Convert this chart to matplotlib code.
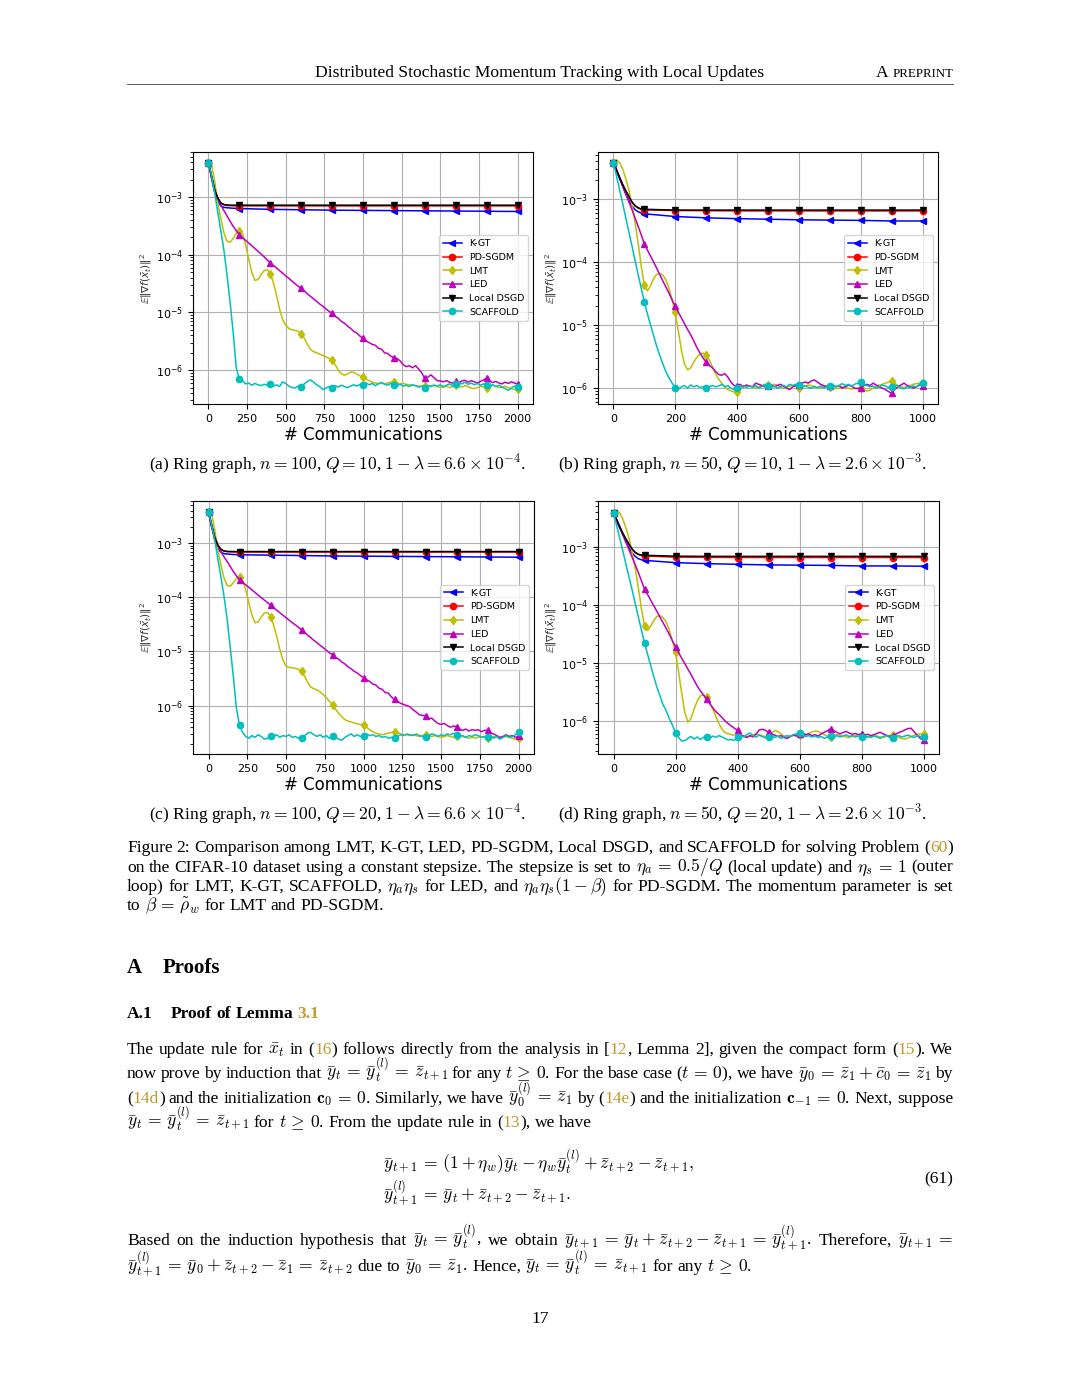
import numpy as np
import matplotlib
matplotlib.use("Agg")
import matplotlib.pyplot as plt
from matplotlib.lines import Line2D

W, H = 1080, 1398
fig = plt.figure(figsize=(W / 100, H / 100), dpi=100)
fig.patch.set_facecolor("white")

# ---------------------------------------------------------------- data
labels = ["K-GT", "PD-SGDM", "LMT", "LED", "Local DSGD", "SCAFFOLD"]
colors = ["b", "r", "y", "m", "k", "c"]
markers = ["<", "o", "d", "^", "v", "o"]

x2k = np.arange(0, 2001, 20)          # sampling positions for n=100 panels
x1k = np.arange(0, 1001, 10)          # sampling positions for n=50 panels
xf2k = [0, 20, 40, 60, 80, 100, 120, 150, 200, 400, 600, 800, 1000, 1200, 1400, 1600, 1800, 2000]
xf1k = [0, 10, 20, 30, 40, 50, 60, 70, 80, 90, 100, 200, 300, 400, 500, 600, 700, 800, 900, 1000]

xticks_2k = [0, 250, 500, 750, 1000, 1250, 1500, 1750, 2000]
xticks_1k = [0, 200, 400, 600, 800, 1000]

# ---- panel (a)
a_kgt = [3.9e-3, 2.1e-3, 1.2e-3, 8.4e-4, 7.0e-4, 6.6e-4, 6.5e-4, 6.4e-4, 6.3e-4, 6.1e-4,
         6.0e-4, 5.9e-4, 5.85e-4, 5.8e-4, 5.75e-4, 5.7e-4, 5.65e-4, 5.6e-4]
a_pd = [3.9e-3, 2.3e-3, 1.35e-3, 9.5e-4, 7.8e-4, 7.3e-4, 7.1e-4, 7.05e-4, 7.0e-4, 7.0e-4,
        7.0e-4, 7.0e-4, 7.0e-4, 7.0e-4, 7.0e-4, 7.0e-4, 7.0e-4, 7.0e-4]
a_lds = [3.9e-3, 2.3e-3, 1.35e-3, 9.6e-4, 7.9e-4, 7.4e-4, 7.25e-4, 7.2e-4, 7.2e-4, 7.2e-4,
         7.2e-4, 7.2e-4, 7.2e-4, 7.2e-4, 7.2e-4, 7.2e-4, 7.2e-4, 7.2e-4]
a_lmt = [3.9e-3, 3.6e-3, 1.9e-3, 8.0e-4, 4.2e-4, 2.4e-4, 1.7e-4, 1.65e-4, 1.9e-4, 2.35e-4,
         2.6e-4, 2.3e-4, 1.5e-4, 8.5e-5, 5.0e-5, 3.6e-5, 3.7e-5, 4.5e-5, 5.3e-5, 5.5e-5,
         4.7e-5, 3.3e-5, 2.0e-5, 1.15e-5, 7.5e-6, 6.0e-6, 5.3e-6, 5.0e-6, 4.9e-6, 4.7e-6,
         4.3e-6, 3.6e-6, 2.8e-6, 2.3e-6, 2.1e-6, 2.0e-6, 1.9e-6, 1.8e-6, 1.7e-6, 1.6e-6,
         1.5e-6, 1.25e-6, 1.0e-6, 8.7e-7, 8.2e-7, 8.6e-7, 9.3e-7, 9.2e-7, 8.6e-7, 8.0e-7,
         7.6e-7, 7.0e-7, 6.6e-7, 6.2e-7, 6.0e-7, 5.9e-7, 6.0e-7, 5.8e-7, 6.0e-7, 6.2e-7,
         6.3e-7, 6.0e-7, 5.8e-7, 5.9e-7, 5.7e-7, 5.6e-7, 5.5e-7, 5.4e-7, 5.3e-7, 5.3e-7,
         5.4e-7, 5.3e-7, 5.4e-7, 5.5e-7, 5.2e-7, 5.0e-7, 5.1e-7, 5.3e-7, 5.0e-7, 5.2e-7,
         5.5e-7, 5.3e-7, 5.1e-7, 5.4e-7, 5.2e-7, 4.9e-7, 4.8e-7, 5.0e-7, 5.3e-7, 5.1e-7,
         5.0e-7, 5.2e-7, 5.5e-7, 5.3e-7, 5.0e-7, 5.1e-7, 5.3e-7, 5.0e-7, 4.8e-7, 4.6e-7,
         4.8e-7]
a_led = [3.9e-3, 2.2e-3, 1.3e-3, 9.5e-4, 7.3e-4, 5.8e-4, 4.7e-4, 3.8e-4, 3.1e-4, 2.6e-4,
         2.2e-4, 1.98e-4, 1.78e-4, 1.6e-4, 1.43e-4, 1.28e-4, 1.15e-4, 1.03e-4, 9.2e-5, 8.1e-5,
         7.2e-5, 6.5e-5, 5.9e-5, 5.3e-5, 4.8e-5, 4.3e-5, 3.9e-5, 3.5e-5, 3.15e-5, 2.85e-5,
         2.6e-5, 2.35e-5, 2.1e-5, 1.9e-5, 1.72e-5, 1.55e-5, 1.4e-5, 1.28e-5, 1.15e-5, 1.05e-5,
         9.6e-6, 8.6e-6, 7.9e-6, 7.0e-6, 6.5e-6, 5.8e-6, 5.3e-6, 4.7e-6, 4.4e-6, 3.9e-6,
         3.6e-6, 3.2e-6, 3.0e-6, 2.8e-6, 2.7e-6, 2.4e-6, 2.3e-6, 2.0e-6, 1.95e-6, 1.75e-6,
         1.65e-6, 1.6e-6, 1.45e-6, 1.25e-6, 1.15e-6, 1.2e-6, 1.1e-6, 1.2e-6, 1.05e-6, 9.0e-7,
         7.2e-7, 7.6e-7, 8.3e-7, 7.4e-7, 6.6e-7, 6.5e-7, 6.3e-7, 6.6e-7, 6.2e-7, 6.0e-7,
         6.4e-7, 6.1e-7, 6.5e-7, 6.7e-7, 6.2e-7, 6.6e-7, 6.3e-7, 6.0e-7, 6.4e-7, 6.8e-7,
         7.3e-7, 6.5e-7, 6.1e-7, 6.4e-7, 6.0e-7, 5.8e-7, 6.2e-7, 5.9e-7, 6.3e-7, 6.0e-7,
         5.8e-7]
a_scaf = [3.9e-3, 2.3e-3, 1.2e-3, 5.5e-4, 2.6e-4, 1.2e-4, 4.5e-5, 1.5e-5, 4.5e-6, 1.1e-6,
          7.0e-7, 6.6e-7, 5.8e-7, 6.0e-7, 5.5e-7, 5.9e-7, 5.6e-7, 5.4e-7, 5.7e-7, 5.5e-7,
          5.8e-7, 5.3e-7, 5.6e-7, 5.2e-7, 6.3e-7, 5.9e-7, 5.3e-7, 5.0e-7, 4.9e-7, 5.3e-7,
          5.1e-7, 5.8e-7, 6.4e-7, 6.8e-7, 6.2e-7, 5.6e-7, 5.2e-7, 4.6e-7, 4.9e-7, 5.2e-7,
          5.0e-7, 5.4e-7, 5.1e-7, 5.5e-7, 5.2e-7, 5.0e-7, 5.3e-7, 5.6e-7, 5.3e-7, 5.7e-7,
          5.5e-7, 6.0e-7, 5.6e-7, 5.9e-7, 5.4e-7, 5.8e-7, 6.1e-7, 5.7e-7, 5.5e-7, 5.9e-7,
          5.6e-7, 5.4e-7, 5.7e-7, 5.3e-7, 5.5e-7, 5.2e-7, 5.6e-7, 5.4e-7, 5.1e-7, 5.3e-7,
          5.0e-7, 5.4e-7, 5.2e-7, 5.5e-7, 5.3e-7, 5.6e-7, 5.2e-7, 5.5e-7, 5.8e-7, 5.4e-7,
          5.7e-7, 6.1e-7, 5.8e-7, 6.2e-7, 5.7e-7, 6.0e-7, 5.6e-7, 5.9e-7, 5.5e-7, 5.8e-7,
          5.6e-7, 5.3e-7, 5.6e-7, 5.2e-7, 5.5e-7, 5.1e-7, 4.8e-7, 4.5e-7, 4.9e-7, 5.3e-7,
          5.2e-7]

# ---- panel (b)
b_kgt = [3.8e-3, 2.8e-3, 2.1e-3, 1.6e-3, 1.2e-3, 9.5e-4, 7.8e-4, 6.8e-4, 6.3e-4, 6.0e-4,
         5.85e-4, 5.3e-4, 5.05e-4, 4.9e-4, 4.8e-4, 4.7e-4, 4.65e-4, 4.6e-4, 4.5e-4, 4.5e-4]
b_pd = [3.8e-3, 2.9e-3, 2.2e-3, 1.7e-3, 1.35e-3, 1.1e-3, 9.0e-4, 7.8e-4, 7.2e-4, 6.9e-4,
        6.75e-4, 6.6e-4, 6.55e-4, 6.5e-4, 6.5e-4, 6.5e-4, 6.5e-4, 6.5e-4, 6.5e-4, 6.5e-4]
b_lds = [3.8e-3, 2.9e-3, 2.2e-3, 1.7e-3, 1.35e-3, 1.1e-3, 9.0e-4, 7.9e-4, 7.3e-4, 7.0e-4,
         6.9e-4, 6.7e-4, 6.7e-4, 6.7e-4, 6.7e-4, 6.7e-4, 6.7e-4, 6.7e-4, 6.7e-4, 6.7e-4]
b_lmt = [3.8e-3, 4.2e-3, 3.8e-3, 3.0e-3, 2.1e-3, 1.4e-3, 8.0e-4, 4.2e-4, 2.0e-4, 8.5e-5,
         4.3e-5, 3.5e-5, 4.2e-5, 5.5e-5, 6.4e-5, 6.6e-5, 6.2e-5, 5.2e-5, 3.8e-5, 2.5e-5,
         1.6e-5, 8.0e-6, 4.0e-6, 2.4e-6, 1.95e-6, 2.1e-6, 2.6e-6, 3.1e-6, 3.5e-6, 3.6e-6,
         3.4e-6, 2.8e-6, 2.2e-6, 1.7e-6, 1.4e-6, 1.2e-6, 1.05e-6, 9.5e-7, 9.0e-7, 8.7e-7,
         8.7e-7, 9.5e-7, 1.05e-6, 1.1e-6, 1.08e-6, 1.05e-6, 1.02e-6, 1.05e-6, 1.1e-6, 1.15e-6,
         1.12e-6, 1.1e-6, 1.15e-6, 1.12e-6, 1.05e-6, 1.0e-6, 1.02e-6, 1.08e-6, 1.1e-6, 1.05e-6,
         1.0e-6, 1.02e-6, 1.08e-6, 1.12e-6, 1.1e-6, 1.05e-6, 1.0e-6, 1.02e-6, 1.05e-6, 1.1e-6,
         1.05e-6, 1.0e-6, 9.8e-7, 1.0e-6, 1.05e-6, 1.02e-6, 1.0e-6, 9.7e-7, 9.8e-7, 1.0e-6,
         1.0e-6, 9.5e-7, 9.0e-7, 9.3e-7, 1.0e-6, 1.08e-6, 1.12e-6, 1.15e-6, 1.2e-6, 1.25e-6,
         1.3e-6, 1.2e-6, 1.1e-6, 1.05e-6, 1.02e-6, 1.05e-6, 1.1e-6, 1.15e-6, 1.18e-6, 1.2e-6,
         1.2e-6]
b_led = [3.8e-3, 2.9e-3, 2.2e-3, 1.6e-3, 1.2e-3, 9.0e-4, 6.8e-4, 5.0e-4, 3.7e-4, 2.7e-4,
         1.95e-4, 1.55e-4, 1.25e-4, 1.0e-4, 8.0e-5, 6.3e-5, 5.0e-5, 4.0e-5, 3.2e-5, 2.5e-5,
         2.0e-5, 1.6e-5, 1.3e-5, 1.05e-5, 8.5e-6, 7.0e-6, 5.6e-6, 4.4e-6, 3.6e-6, 3.0e-6,
         2.6e-6, 2.3e-6, 2.1e-6, 1.85e-6, 1.65e-6, 1.6e-6, 1.7e-6, 1.5e-6, 1.25e-6, 1.1e-6,
         1.1e-6, 1.15e-6, 1.05e-6, 1.12e-6, 1.08e-6, 1.05e-6, 1.2e-6, 1.15e-6, 1.1e-6, 1.05e-6,
         1.08e-6, 1.12e-6, 1.05e-6, 1.1e-6, 1.15e-6, 1.08e-6, 1.0e-6, 9.5e-7, 1.05e-6, 1.1e-6,
         1.12e-6, 1.2e-6, 1.25e-6, 1.2e-6, 1.3e-6, 1.35e-6, 1.25e-6, 1.15e-6, 1.1e-6, 1.05e-6,
         1.08e-6, 1.12e-6, 1.05e-6, 1.1e-6, 1.0e-6, 1.05e-6, 1.12e-6, 1.08e-6, 1.0e-6, 9.8e-7,
         1.02e-6, 1.1e-6, 1.15e-6, 1.1e-6, 1.2e-6, 1.12e-6, 1.05e-6, 1.0e-6, 9.5e-7, 8.8e-7,
         8.3e-7, 9.5e-7, 1.05e-6, 1.12e-6, 1.2e-6, 1.1e-6, 1.05e-6, 1.0e-6, 1.05e-6, 1.12e-6,
         1.1e-6]
b_scaf = [3.8e-3, 2.3e-3, 1.4e-3, 8.5e-4, 5.0e-4, 3.0e-4, 1.8e-4, 1.05e-4, 6.3e-5, 3.8e-5,
          2.3e-5, 1.5e-5, 1.0e-5, 6.8e-6, 4.6e-6, 3.3e-6, 2.4e-6, 1.8e-6, 1.45e-6, 1.2e-6,
          1.0e-6, 9.6e-7, 1.05e-6, 1.1e-6, 1.0e-6, 1.12e-6, 1.05e-6, 1.1e-6, 1.02e-6, 1.06e-6,
          1.0e-6, 1.05e-6, 1.1e-6, 1.05e-6, 1.08e-6, 1.15e-6, 1.05e-6, 1.1e-6, 1.0e-6, 9.5e-7,
          1.0e-6, 1.05e-6, 1.1e-6, 1.02e-6, 1.08e-6, 1.04e-6, 1.1e-6, 1.0e-6, 1.06e-6, 1.12e-6,
          1.08e-6, 1.03e-6, 1.08e-6, 1.0e-6, 1.05e-6, 1.1e-6, 1.05e-6, 1.15e-6, 1.1e-6, 1.15e-6,
          1.12e-6, 1.05e-6, 1.1e-6, 1.03e-6, 1.0e-6, 1.07e-6, 1.02e-6, 1.08e-6, 1.0e-6, 1.05e-6,
          1.08e-6, 1.12e-6, 1.05e-6, 1.1e-6, 1.18e-6, 1.1e-6, 1.15e-6, 1.08e-6, 1.15e-6, 1.2e-6,
          1.25e-6, 1.15e-6, 1.1e-6, 1.05e-6, 1.08e-6, 1.0e-6, 1.05e-6, 1.12e-6, 1.08e-6, 1.02e-6,
          1.05e-6, 1.12e-6, 1.08e-6, 1.0e-6, 9.8e-7, 1.05e-6, 1.02e-6, 1.08e-6, 1.05e-6, 1.15e-6,
          1.2e-6]

# ---- panel (c)
c_kgt = [3.7e-3, 2.0e-3, 1.15e-3, 8.0e-4, 6.8e-4, 6.4e-4, 6.3e-4, 6.2e-4, 6.1e-4, 6.0e-4,
         5.9e-4, 5.8e-4, 5.75e-4, 5.7e-4, 5.65e-4, 5.6e-4, 5.55e-4, 5.5e-4]
c_pd = [3.7e-3, 2.2e-3, 1.3e-3, 9.2e-4, 7.6e-4, 7.1e-4, 6.95e-4, 6.9e-4, 6.85e-4, 6.85e-4,
        6.85e-4, 6.85e-4, 6.85e-4, 6.85e-4, 6.85e-4, 6.85e-4, 6.85e-4, 6.85e-4]
c_lds = [3.7e-3, 2.2e-3, 1.3e-3, 9.3e-4, 7.7e-4, 7.2e-4, 7.05e-4, 7.0e-4, 7.0e-4, 7.0e-4,
         7.0e-4, 7.0e-4, 7.0e-4, 7.0e-4, 7.0e-4, 7.0e-4, 7.0e-4, 7.0e-4]
c_lmt = [3.7e-3, 3.5e-3, 1.8e-3, 7.6e-4, 4.0e-4, 2.3e-4, 1.65e-4, 1.6e-4, 1.85e-4, 2.25e-4,
         2.4e-4, 2.1e-4, 1.4e-4, 8.0e-5, 4.7e-5, 3.4e-5, 3.5e-5, 4.3e-5, 5.1e-5, 5.3e-5,
         4.4e-5, 3.1e-5, 1.9e-5, 1.1e-5, 7.0e-6, 5.4e-6, 5.1e-6, 5.0e-6, 4.9e-6, 4.7e-6,
         4.3e-6, 3.5e-6, 2.7e-6, 2.2e-6, 2.05e-6, 1.95e-6, 1.8e-6, 1.6e-6, 1.4e-6, 1.2e-6,
         1.03e-6, 8.6e-7, 7.2e-7, 6.2e-7, 5.5e-7, 5.2e-7, 5.0e-7, 4.8e-7, 4.6e-7, 4.5e-7,
         4.4e-7, 4.0e-7, 3.6e-7, 3.3e-7, 3.1e-7, 3.0e-7, 2.9e-7, 3.0e-7, 3.1e-7, 3.2e-7,
         3.3e-7, 3.2e-7, 3.0e-7, 2.9e-7, 2.9e-7, 2.8e-7, 2.9e-7, 2.8e-7, 2.7e-7, 2.8e-7,
         2.9e-7, 2.8e-7, 2.7e-7, 2.8e-7, 2.7e-7, 2.6e-7, 2.7e-7, 2.8e-7, 2.7e-7, 2.6e-7,
         2.7e-7, 2.8e-7, 2.7e-7, 2.6e-7, 2.5e-7, 2.6e-7, 2.5e-7, 2.6e-7, 2.7e-7, 2.6e-7,
         2.5e-7, 2.6e-7, 2.7e-7, 2.6e-7, 2.5e-7, 2.6e-7, 2.7e-7, 2.6e-7, 2.5e-7, 2.4e-7,
         2.5e-7]
c_led = [3.7e-3, 2.1e-3, 1.25e-3, 9.0e-4, 7.0e-4, 5.6e-4, 4.6e-4, 3.7e-4, 3.0e-4, 2.5e-4,
         2.1e-4, 1.9e-4, 1.7e-4, 1.53e-4, 1.37e-4, 1.23e-4, 1.1e-4, 9.9e-5, 8.9e-5, 8.0e-5,
         7.2e-5, 6.4e-5, 5.8e-5, 5.2e-5, 4.7e-5, 4.2e-5, 3.8e-5, 3.4e-5, 3.1e-5, 2.8e-5,
         2.5e-5, 2.25e-5, 2.0e-5, 1.8e-5, 1.6e-5, 1.45e-5, 1.3e-5, 1.18e-5, 1.05e-5, 9.5e-6,
         8.7e-6, 7.8e-6, 7.2e-6, 6.4e-6, 5.9e-6, 5.2e-6, 4.8e-6, 4.3e-6, 4.0e-6, 3.6e-6,
         3.3e-6, 3.0e-6, 2.8e-6, 2.5e-6, 2.4e-6, 2.1e-6, 2.0e-6, 1.75e-6, 1.7e-6, 1.45e-6,
         1.3e-6, 1.2e-6, 1.1e-6, 1.05e-6, 1.0e-6, 9.5e-7, 8.4e-7, 7.6e-7, 6.8e-7, 6.6e-7,
         6.5e-7, 5.7e-7, 5.9e-7, 5.2e-7, 4.7e-7, 4.5e-7, 4.7e-7, 4.3e-7, 4.0e-7, 4.2e-7,
         4.1e-7, 3.7e-7, 3.5e-7, 3.7e-7, 3.4e-7, 3.6e-7, 3.5e-7, 3.6e-7, 3.3e-7, 3.5e-7,
         3.5e-7, 3.1e-7, 3.0e-7, 2.8e-7, 2.6e-7, 2.7e-7, 2.9e-7, 2.7e-7, 2.8e-7, 2.6e-7,
         2.7e-7]
c_scaf = [3.7e-3, 2.2e-3, 1.15e-3, 5.2e-4, 2.4e-4, 1.05e-4, 4.0e-5, 1.2e-5, 3.5e-6, 9.0e-7,
          4.3e-7, 3.2e-7, 2.7e-7, 2.5e-7, 2.8e-7, 2.6e-7, 2.9e-7, 2.7e-7, 2.4e-7, 2.5e-7,
          2.8e-7, 2.7e-7, 2.9e-7, 2.6e-7, 2.8e-7, 2.7e-7, 2.9e-7, 2.6e-7, 2.7e-7, 2.5e-7,
          2.5e-7, 2.8e-7, 3.1e-7, 3.2e-7, 2.9e-7, 2.7e-7, 2.9e-7, 2.6e-7, 2.8e-7, 2.5e-7,
          2.7e-7, 2.6e-7, 2.4e-7, 2.3e-7, 2.6e-7, 2.8e-7, 3.0e-7, 2.7e-7, 2.9e-7, 2.7e-7,
          2.8e-7, 3.0e-7, 2.8e-7, 2.9e-7, 2.7e-7, 2.8e-7, 2.6e-7, 2.7e-7, 2.5e-7, 2.6e-7,
          2.5e-7, 2.7e-7, 2.9e-7, 2.8e-7, 3.0e-7, 2.9e-7, 2.8e-7, 3.0e-7, 2.8e-7, 2.7e-7,
          2.6e-7, 2.8e-7, 3.0e-7, 2.9e-7, 2.7e-7, 2.9e-7, 2.8e-7, 3.0e-7, 2.9e-7, 3.1e-7,
          2.9e-7, 2.7e-7, 2.8e-7, 2.6e-7, 2.8e-7, 2.7e-7, 2.9e-7, 2.8e-7, 2.6e-7, 2.7e-7,
          2.6e-7, 2.8e-7, 2.5e-7, 2.7e-7, 2.4e-7, 2.6e-7, 2.8e-7, 2.6e-7, 2.7e-7, 2.9e-7,
          3.3e-7]

# ---- panel (d)
d_kgt = [3.85e-3, 2.8e-3, 2.1e-3, 1.6e-3, 1.2e-3, 9.5e-4, 7.8e-4, 6.8e-4, 6.2e-4, 5.95e-4,
         5.8e-4, 5.3e-4, 5.1e-4, 4.96e-4, 4.85e-4, 4.8e-4, 4.75e-4, 4.65e-4, 4.65e-4, 4.6e-4]
d_pd = [3.85e-3, 2.9e-3, 2.2e-3, 1.7e-3, 1.35e-3, 1.1e-3, 9.0e-4, 7.9e-4, 7.3e-4, 7.0e-4,
        6.9e-4, 6.6e-4, 6.55e-4, 6.5e-4, 6.5e-4, 6.5e-4, 6.5e-4, 6.5e-4, 6.5e-4, 6.5e-4]
d_lds = [3.85e-3, 2.9e-3, 2.2e-3, 1.7e-3, 1.35e-3, 1.1e-3, 9.1e-4, 8.0e-4, 7.4e-4, 7.2e-4,
         7.1e-4, 6.85e-4, 6.8e-4, 6.8e-4, 6.8e-4, 6.8e-4, 6.8e-4, 6.8e-4, 6.8e-4, 6.8e-4]
d_lmt = [3.85e-3, 4.2e-3, 3.8e-3, 3.0e-3, 2.1e-3, 1.4e-3, 8.0e-4, 4.2e-4, 2.0e-4, 8.5e-5,
         4.3e-5, 3.6e-5, 4.3e-5, 5.4e-5, 6.3e-5, 6.5e-5, 6.0e-5, 5.0e-5, 3.7e-5, 2.4e-5,
         1.55e-5, 7.0e-6, 3.0e-6, 1.4e-6, 9.5e-7, 1.1e-6, 1.6e-6, 2.2e-6, 2.7e-6, 2.8e-6,
         2.6e-6, 2.1e-6, 1.6e-6, 1.2e-6, 9.0e-7, 7.2e-7, 6.3e-7, 6.0e-7, 5.8e-7, 5.7e-7,
         5.8e-7, 5.6e-7, 5.4e-7, 5.3e-7, 5.5e-7, 5.8e-7, 6.0e-7, 5.8e-7, 5.5e-7, 5.4e-7,
         5.7e-7, 6.3e-7, 6.8e-7, 6.6e-7, 6.0e-7, 5.5e-7, 5.3e-7, 5.4e-7, 5.7e-7, 5.9e-7,
         5.8e-7, 5.6e-7, 5.7e-7, 6.1e-7, 6.5e-7, 6.7e-7, 6.6e-7, 6.2e-7, 5.8e-7, 5.5e-7,
         5.4e-7, 5.6e-7, 5.8e-7, 5.7e-7, 5.5e-7, 5.3e-7, 5.2e-7, 5.4e-7, 5.6e-7, 5.8e-7,
         5.7e-7, 5.5e-7, 5.3e-7, 5.4e-7, 5.6e-7, 5.5e-7, 5.3e-7, 5.2e-7, 5.4e-7, 5.6e-7,
         5.7e-7, 5.5e-7, 5.2e-7, 5.0e-7, 4.9e-7, 5.1e-7, 5.4e-7, 5.7e-7, 5.9e-7, 6.0e-7,
         6.0e-7]
d_led = [3.85e-3, 2.9e-3, 2.2e-3, 1.6e-3, 1.2e-3, 8.8e-4, 6.6e-4, 4.9e-4, 3.6e-4, 2.6e-4,
         1.85e-4, 1.5e-4, 1.2e-4, 9.6e-5, 7.7e-5, 6.1e-5, 4.9e-5, 3.9e-5, 3.1e-5, 2.4e-5,
         1.9e-5, 1.5e-5, 1.2e-5, 9.7e-6, 7.8e-6, 6.3e-6, 5.0e-6, 4.0e-6, 3.3e-6, 2.8e-6,
         2.4e-6, 2.0e-6, 1.7e-6, 1.45e-6, 1.3e-6, 1.15e-6, 1.0e-6, 9.0e-7, 8.2e-7, 7.5e-7,
         6.9e-7, 5.8e-7, 5.5e-7, 5.2e-7, 5.6e-7, 5.3e-7, 5.9e-7, 7.0e-7, 7.2e-7, 6.9e-7,
         6.4e-7, 6.0e-7, 5.7e-7, 5.4e-7, 5.6e-7, 5.2e-7, 5.0e-7, 5.4e-7, 5.7e-7, 5.5e-7,
         5.9e-7, 6.2e-7, 5.8e-7, 6.0e-7, 5.6e-7, 5.8e-7, 5.5e-7, 6.0e-7, 6.4e-7, 6.8e-7,
         7.3e-7, 6.8e-7, 6.4e-7, 6.0e-7, 6.3e-7, 6.6e-7, 6.2e-7, 5.9e-7, 6.1e-7, 5.8e-7,
         6.0e-7, 5.7e-7, 5.9e-7, 5.6e-7, 5.8e-7, 6.1e-7, 6.4e-7, 6.0e-7, 5.7e-7, 5.4e-7,
         5.6e-7, 5.9e-7, 6.3e-7, 6.6e-7, 7.0e-7, 7.4e-7, 7.5e-7, 6.5e-7, 5.6e-7, 5.0e-7,
         4.7e-7]
d_scaf = [3.85e-3, 2.3e-3, 1.4e-3, 8.5e-4, 5.0e-4, 3.0e-4, 1.8e-4, 1.05e-4, 6.2e-5, 3.7e-5,
          2.2e-5, 1.4e-5, 9.0e-6, 5.8e-6, 3.8e-6, 2.7e-6, 1.9e-6, 1.5e-6, 1.1e-6, 8.5e-7,
          6.3e-7, 5.2e-7, 4.5e-7, 4.6e-7, 5.0e-7, 5.4e-7, 4.9e-7, 5.3e-7, 4.8e-7, 5.2e-7,
          5.4e-7, 5.0e-7, 5.5e-7, 5.2e-7, 5.6e-7, 5.3e-7, 5.0e-7, 4.7e-7, 4.8e-7, 4.6e-7,
          5.4e-7, 5.6e-7, 5.3e-7, 5.8e-7, 6.2e-7, 5.6e-7, 5.3e-7, 5.7e-7, 5.4e-7, 5.1e-7,
          5.4e-7, 5.6e-7, 5.2e-7, 5.5e-7, 5.0e-7, 5.3e-7, 5.6e-7, 5.4e-7, 5.8e-7, 6.0e-7,
          6.2e-7, 5.7e-7, 5.4e-7, 5.6e-7, 5.3e-7, 5.5e-7, 5.2e-7, 5.4e-7, 5.0e-7, 5.3e-7,
          5.5e-7, 5.2e-7, 5.6e-7, 5.3e-7, 5.5e-7, 5.8e-7, 5.4e-7, 5.6e-7, 5.3e-7, 5.5e-7,
          5.4e-7, 5.1e-7, 5.4e-7, 5.2e-7, 5.5e-7, 5.3e-7, 5.0e-7, 5.4e-7, 5.7e-7, 5.2e-7,
          5.1e-7, 5.4e-7, 5.6e-7, 5.3e-7, 5.5e-7, 5.7e-7, 5.4e-7, 5.2e-7, 5.6e-7, 5.4e-7,
          5.3e-7]

# ---------------------------------------------------------------- panels
panels = [
    dict(box=(193, 152, 533, 404), x=x2k, xf=xf2k, mstep=200, xticks=xticks_2k,
         ylim=(2.6e-7, 6.0e-3), flat=(a_kgt, a_pd, a_lds), dense=(a_lmt, a_led, a_scaf)),
    dict(box=(598, 152, 938, 404), x=x1k, xf=xf1k, mstep=100, xticks=xticks_1k,
         ylim=(5.6e-7, 5.6e-3), flat=(b_kgt, b_pd, b_lds), dense=(b_lmt, b_led, b_scaf)),
    dict(box=(193, 501, 534, 754), x=x2k, xf=xf2k, mstep=200, xticks=xticks_2k,
         ylim=(1.28e-7, 6.0e-3), flat=(c_kgt, c_pd, c_lds), dense=(c_lmt, c_led, c_scaf)),
    dict(box=(598, 501, 939, 754), x=x1k, xf=xf1k, mstep=100, xticks=xticks_1k,
         ylim=(2.7e-7, 6.1e-3), flat=(d_kgt, d_pd, d_lds), dense=(d_lmt, d_led, d_scaf)),
]

for p in panels:
    l, t, r, b = p["box"]
    ax = fig.add_axes([l / W, 1 - b / H, (r - l) / W, (b - t) / H])
    kgt, pd_, lds = p["flat"]
    lmt, led, scaf = p["dense"]
    xd = np.asarray(p["x"])
    xf = np.asarray(p["xf"])
    md = np.where(xd % p["mstep"] == 0)[0]
    mf = np.where(xf % p["mstep"] == 0)[0]
    series = [(xf, kgt, mf), (xf, pd_, mf), (xd, lmt, md), (xd, led, md), (xf, lds, mf), (xd, scaf, md)]
    for (xx, yy, mk), lab, col, mar in zip(series, labels, colors, markers):
        ax.plot(xx, yy, color=col, marker=mar, markevery=list(mk), ms=4.5, lw=1.1, label=lab)
    ax.set_yscale("log")
    ax.set_xlim(-0.05 * xd[-1], 1.05 * xd[-1])
    ax.set_ylim(*p["ylim"])
    ax.set_xticks(p["xticks"])
    ax.tick_params(labelsize=8)
    ax.grid(True, which="major", color="#b0b0b0", lw=0.8)
    ax.set_xlabel("# Communications", fontsize=12, labelpad=2)
    ax.set_ylabel(r"$\mathbb{E}\|\nabla f(\bar{x}_t)\|^2$", fontsize=7.5, labelpad=1.5,
                  color="#333333")
    ax.legend(loc="center right", fontsize=6.8)

# ---------------------------------------------------------------- page text
SERIF = "Liberation Serif"
FS = 12.6
GOLD = "#c49a2c"
renderer = fig.canvas.get_renderer()


def texify(s):
    """add a thin TeX-like space around relations inside math."""
    parts = s.split("$")
    for i in range(1, len(parts), 2):
        m = parts[i]
        for op in ("=", r"\geq"):
            m = m.replace(" " + op + " ", r" \," + op + r"\, ")
        if m.endswith(" ="):
            m = m[:-2] + r" \,="
        parts[i] = m
    return "$".join(parts)


def put(x, y, s, size=FS, weight="normal", color="black", ha="left", tex=True):
    return fig.text(x / W, 1 - y / H, texify(s) if tex else s, fontsize=size, family=SERIF,
                    weight=weight, color=color, ha=ha, va="baseline", math_fontfamily="cm")


def measure(s, size=FS, weight="normal"):
    t = put(0, 500, s, size, weight)
    w = t.get_window_extent(renderer).width
    t.remove()
    return w


def split_words(line):
    words, cur, inmath = [], "", False
    for ch in line:
        if ch == "$":
            inmath = not inmath
            cur += ch
        elif ch == " " and not inmath:
            if cur:
                words.append(cur)
            cur = ""
        else:
            cur += ch
    if cur:
        words.append(cur)
    return words


def segments(word):
    parts = word.split("§")
    return [(s, GOLD if i % 2 else "black") for i, s in enumerate(parts) if s]


def layout(line, y, x0=127, x1=953, justify=True, size=FS, weight="normal"):
    words = [segments(w) for w in split_words(line)]
    widths = [[measure(s, size, weight) for s, c in ws] for ws in words]
    total = sum(sum(w) for w in widths)
    space = 0.25 * size * 100 / 72
    if justify and len(words) > 1:
        gap = max((x1 - x0 - total) / (len(words) - 1), 2.5)
    else:
        gap = space
    x = x0
    for ws, wd in zip(words, widths):
        for (s, c), w in zip(ws, wd):
            put(x, y, s, size, weight, c)
            x += w
        x += gap


# header
put(540, 77, "Distributed Stochastic Momentum Tracking with Local Updates", ha="center")
wpre = measure("PREPRINT", 9.3)
put(953, 77, "PREPRINT", size=9.3, ha="right")
put(953 - wpre - 3.5, 77, "A", ha="right")
fig.add_artist(Line2D([127 / W, 953 / W], [1 - 83.5 / H, 1 - 83.5 / H], color="#444444", lw=0.6))

# sub captions
subcaps = [
    (337, 470, r"(a) Ring graph, $n = 100$, $Q = 10$, $1 - \lambda = 6.6 \times 10^{-4}$."),
    (742, 470, r"(b) Ring graph, $n = 50$, $Q = 10$, $1 - \lambda = 2.6 \times 10^{-3}$."),
    (337, 820, r"(c) Ring graph, $n = 100$, $Q = 20$, $1 - \lambda = 6.6 \times 10^{-4}$."),
    (742, 820, r"(d) Ring graph, $n = 50$, $Q = 20$, $1 - \lambda = 2.6 \times 10^{-3}$."),
]
for x, y, s in subcaps:
    put(x, y, s, ha="center", tex=False)

# figure caption
caption = [
    "Figure 2: Comparison among LMT, K-GT, LED, PD-SGDM, Local DSGD, and SCAFFOLD for solving Problem (§60§)",
    r"on the CIFAR-10 dataset using a constant stepsize. The stepsize is set to $\eta_a = 0.5/Q$ (local update) and $\eta_s = 1$ (outer",
    r"loop) for LMT, K-GT, SCAFFOLD, $\eta_a\eta_s$ for LED, and $\eta_a\eta_s(1 - \beta)$ for PD-SGDM. The momentum parameter is set",
    r"to $\beta = \tilde{\rho}_w$ for LMT and PD-SGDM.",
]
cap_y = [852, 871.5, 891, 910.5]
for i, (line, y) in enumerate(zip(caption, cap_y)):
    layout(line, y, justify=(i < len(caption) - 1))

# section headings
put(127, 973, "A", size=15, weight="bold")
put(163, 973, "Proofs", size=15, weight="bold")
put(127, 1018, "A.1", size=FS, weight="bold")
layout("Proof of Lemma §3.1§", 1018, x0=171, justify=False, weight="bold")

# paragraph
para = [
    r"The update rule for $\bar{x}_t$ in (§16§) follows directly from the analysis in [§12§, Lemma 2], given the compact form (§15§). We",
    r"now prove by induction that $\bar{y}_t = \bar{y}_t^{(l)} = \bar{z}_{t+1}$ for any $t \geq 0$. For the base case ($t = 0$), we have $\bar{y}_0 = \bar{z}_1 + \bar{c}_0 = \bar{z}_1$ by",
    r"(§14d§) and the initialization $\mathbf{c}_0 = \mathbf{0}$. Similarly, we have $\bar{y}_0^{(l)} = \bar{z}_1$ by (§14e§) and the initialization $\mathbf{c}_{-1} = \mathbf{0}$. Next, suppose",
    r"$\bar{y}_t = \bar{y}_t^{(l)} = \bar{z}_{t+1}$ for $t \geq 0$. From the update rule in (§13§), we have",
]
para_y = [1054, 1078, 1103, 1127]
for i, (line, y) in enumerate(zip(para, para_y)):
    layout(line, y, justify=(i < len(para) - 1))

# equation (61)
put(383, 1170, r"$\bar{y}_{t+1} = (1 + \eta_w)\bar{y}_t - \eta_w\bar{y}_t^{(l)} + \bar{z}_{t+2} - \bar{z}_{t+1},$")
put(383, 1200, r"$\bar{y}_{t+1}^{(l)} = \bar{y}_t + \bar{z}_{t+2} - \bar{z}_{t+1}.$")
put(953, 1183, "(61)", ha="right")

para2 = [
    r"Based on the induction hypothesis that $\bar{y}_t = \bar{y}_t^{(l)}$, we obtain $\bar{y}_{t+1} = \bar{y}_t + \bar{z}_{t+2} - \bar{z}_{t+1} = \bar{y}_{t+1}^{(l)}$. Therefore, $\bar{y}_{t+1} =$",
    r"$\bar{y}_{t+1}^{(l)} = \bar{y}_0 + \bar{z}_{t+2} - \bar{z}_1 = \bar{z}_{t+2}$ due to $\bar{y}_0 = \bar{z}_1$. Hence, $\bar{y}_t = \bar{y}_t^{(l)} = \bar{z}_{t+1}$ for any $t \geq 0$.",
]
para2_y = [1245, 1271]
for i, (line, y) in enumerate(zip(para2, para2_y)):
    layout(line, y, justify=(i == 0))

# page number
put(540, 1323, "17", ha="center")

fig.savefig("out.png", dpi=100, facecolor="white")
